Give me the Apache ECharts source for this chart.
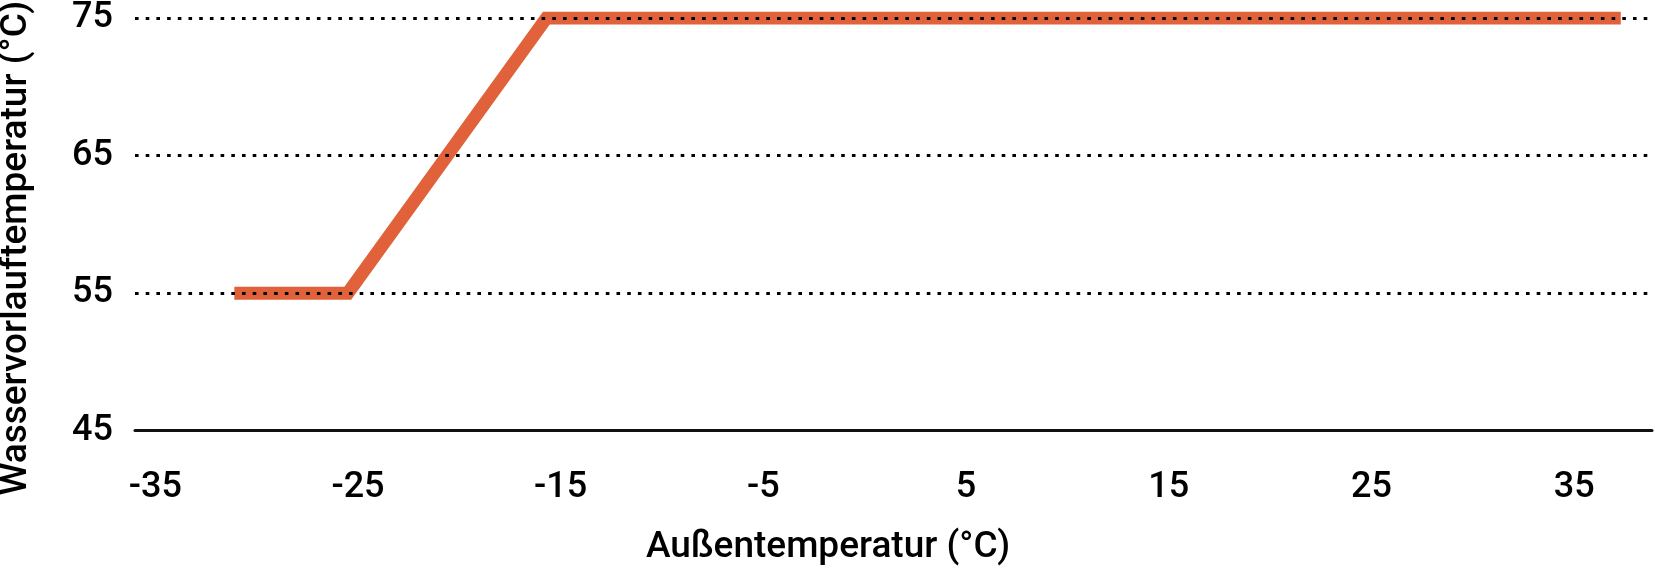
<!DOCTYPE html>
<html>
<head>
<meta charset="utf-8">
<script src="https://cdn.jsdelivr.net/npm/echarts@6/dist/echarts.min.js"></script>
<style>
html,body{margin:0;padding:0;background:#fff;}
#chart{width:1655px;height:568px;}
</style>
</head>
<body>
<div id="chart"></div>
<script>
// Data
const outdoorTemp = [-31.1, -25.5, -15.7, 37.3];   // Außentemperatur (°C)
const flowTemp = [55, 55, 75, 75];                 // Wasservorlauftemperatur (°C)
const xTickLabels = [-35, -25, -15, -5, 5, 15, 25, 35];
const yTickLabels = [45, 55, 65, 75];
const xAxisTitle = 'Außentemperatur (°C)';
const yAxisTitle = 'Wasservorlauftemperatur (°C)';

const FONT = 'Roboto';
const chart = echarts.init(document.getElementById('chart'), null, {renderer: 'canvas'});
const seriesData = outdoorTemp.map((x, i) => [x, flowTemp[i]]);

chart.setOption({
  animation: false,
  backgroundColor: '#ffffff',
  grid: {left: 135, right: 3, top: 15.5, bottom: 137.3, containLabel: false},
  xAxis: {
    type: 'value',
    min: -36,
    max: 38.84,
    z: 5,
    axisLine: {show: true, onZero: false, lineStyle: {color: '#111', width: 3}},
    axisTick: {show: false},
    splitLine: {show: false},
    axisLabel: {
      customValues: xTickLabels,
      margin: 39,
      fontFamily: FONT,
      fontSize: 36,
      fontWeight: 500,
      color: '#000'
    }
  },
  yAxis: {
    type: 'value',
    min: yTickLabels[0],
    max: yTickLabels[yTickLabels.length - 1],
    interval: 10,
    z: 5,
    axisLine: {show: false},
    axisTick: {show: false},
    splitLine: {
      show: true,
      lineStyle: {color: '#000', width: 3.2, type: [3.6, 7.1], cap: 'butt'}
    },
    axisLabel: {
      margin: 22,
      fontFamily: FONT,
      fontSize: 36,
      fontWeight: 500,
      color: '#000'
    }
  },
  series: [{
    type: 'line',
    data: seriesData,
    z: 2,
    showSymbol: false,
    symbol: 'none',
    lineStyle: {color: '#E1623A', width: 13, cap: 'butt', join: 'miter'}
  }],
  graphic: [
    {
      type: 'text',
      x: 828, y: 548,
      style: {
        text: xAxisTitle,
        fontFamily: FONT, fontSize: 37, fontWeight: 500, fill: '#000',
        align: 'center', verticalAlign: 'middle'
      }
    },
    {
      type: 'text',
      x: 17, y: 248,
      rotation: Math.PI / 2,
      style: {
        text: yAxisTitle,
        fontFamily: FONT, fontSize: 37, fontWeight: 500, fill: '#000',
        align: 'center', verticalAlign: 'middle'
      }
    }
  ]
});
</script>
</body>
</html>
